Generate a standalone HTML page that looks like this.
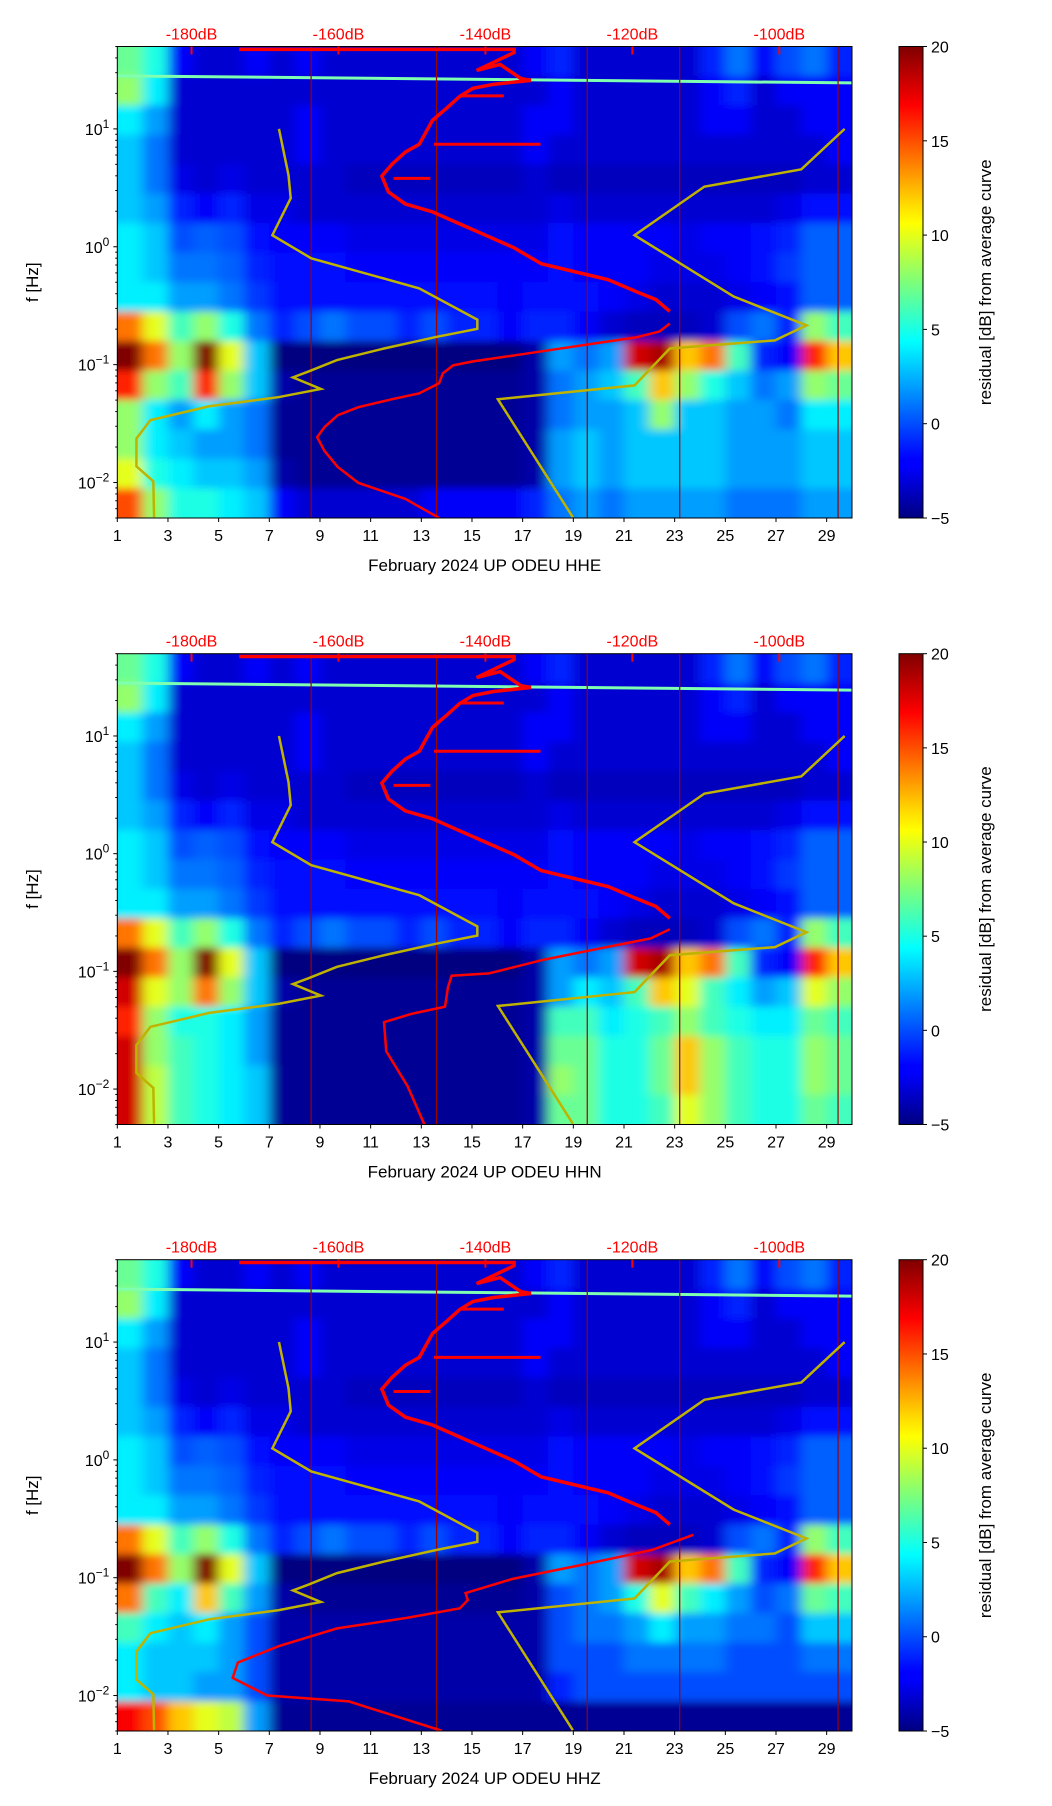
<!DOCTYPE html>
<html><head><meta charset="utf-8"><style>
html,body{margin:0;padding:0;background:#fff}
svg{display:block;font-family:"Liberation Sans","DejaVu Sans",sans-serif}
</style></head><body>
<svg id="fig" xmlns="http://www.w3.org/2000/svg" width="1052" height="1806" viewBox="0 0 1052 1806">
<defs>
<filter id="blur" x="-5%" y="-5%" width="110%" height="110%"><feGaussianBlur stdDeviation="6 4"/></filter>
<linearGradient id="jetgrad" x1="0" y1="1" x2="0" y2="0">
<stop offset="0" stop-color="#000080"/><stop offset="0.11" stop-color="#0000ff"/><stop offset="0.125" stop-color="#0000ff"/>
<stop offset="0.34" stop-color="#00dcff"/><stop offset="0.375" stop-color="#00ffff"/><stop offset="0.5" stop-color="#7dff7a"/>
<stop offset="0.625" stop-color="#ffff00"/><stop offset="0.66" stop-color="#ffe000"/><stop offset="0.875" stop-color="#ff0000"/><stop offset="1" stop-color="#800000"/>
</linearGradient>
</defs>
</svg>
<script>
// ---- data ----
const days = [1,2,3,4,5,6,7,8,9,10,11,12,13,14,15,16,17,18,19,20,21,22,23,24,25,26,27,28,29];
const xTicks = [1,3,5,7,9,11,13,15,17,19,21,23,25,27,29];
const yTickExp = [1,0,-1,-2];
const dbTicks = [-180,-160,-140,-120,-100];
const cbTicks = [20,15,10,5,0,-5];
const plotTitles = ["February 2024 UP ODEU  HHE","February 2024 UP ODEU  HHN","February 2024 UP ODEU  HHZ"];
const rowTopLog = [1.70,1.45,1.20,0.95,0.70,0.45,0.20,-0.05,-0.30,-0.55,-0.80,-1.05,-1.30,-1.55,-1.80,-2.05];

const baseRows = [
[7,5,-2,-3,-3,-2,-3,-2,-3,-3,-3,-3,-3,-3,-3,-3,-2,-1,-3,-3,-3,-3,-3,-1,1,-2,0,1,-1],
[8,4,-3,-3,-3,-3,-3,-3,-3,-3,-3,-3,-3,-3,-3,-3,-3,-2,-3,-3,-3,-3,-3,-2,-1,-3,-2,-2,-2],
[4,2,-3,-3,-3,-3,-3,-2,-3,-3,-3,-3,-3,-3,-3,-3,-2,-2,-3,-3,-3,-3,-3,-2,-2,-3,-3,-2,-2],
[3,1,-3,-3,-3,-3,-3,-2,-3,-3,-3,-3,-3,-3,-3,-3,-2,-3,-3,-3,-3,-3,-3,-3,-3,-3,-3,-3,-2],
[3,1,-2.5,-3,-2.5,-3,-3,-3,-3,-3.5,-3.5,-3.5,-3.5,-3.5,-3.5,-3.5,-3,-3.5,-3.5,-3.5,-3.5,-3.5,-3.5,-3.5,-3.5,-3.5,-3.5,-3,-3],
[3,2,-1,-2,-1,-2.5,-2.5,-3,-3,-3,-3,-3,-3,-3,-3,-3,-3,-2.5,-3,-3,-3,-3,-3,-3,-3,-3,-2.5,-1.5,-1.5],
[4,3,0,0.5,0,-1.5,-2,-2,-2,-2.5,-2.5,-2.5,-2.5,-2.5,-2.5,-2.5,-2.5,-1.5,-2,-2,-2,-2,-2.5,-2,-2,-1.5,-1,0.5,0.5],
[4,3,1,1,0.5,-1,-1.5,-1.5,-1.5,-2,-2,-2,-2,-2,-2,-2,-2,-1.5,-2,-2,-2,-2.5,-2.5,-2.5,-2,-1.5,-0.5,0.5,0.5],
[4,4,2,2,1,-0.5,-1.5,-1.5,-1.5,-1.5,-1.5,-1.5,-1.5,-1.5,-1.5,-2,-1.5,-1.5,-1.5,-2,-2.5,-3,-3,-3,-2.5,-2,-1.5,0.5,0.5],
[14,10,6,8,5,1,-1,0,1,0,0,-1,0,-1,-1,-2,-1,-1,-2,-3,-3.5,-3.5,-3.5,-3,0,1,-1,8,6],
[20,14,8,20,10,3,-5,-5,-5,-5,-5,-5,-5,-5,-5,-5,-4,2,1,2,18,19,12,14,6,-1,-2,16,12],
[16,8,6,16,8,3,-4,-4.5,-4.5,-4.5,-4.5,-4.5,-4.5,-4.5,-4.5,-4.5,-4,1,2,3,6,12,8,5,3,1,2,8,7],
[8,4,2,4,2,1,-4.5,-4.5,-4.5,-4.5,-4.5,-4.5,-4.5,-4.5,-4.5,-4.5,-4,1,2,2,3,8,3,3,2,2,1,4,4],
[8,4,3,2,2,1,-4.5,-4.5,-4.5,-4.5,-4.5,-4.5,-4.5,-4.5,-4.5,-4.5,-4,2,3,2,3,3,3,3,2,2,2,3,3],
[10,5,4,3,3,2,-4,-4.5,-4.5,-4.5,-4.5,-4.5,-4.5,-4.5,-4.5,-4.5,-4,2,3,2,3,3,3,3,2,2,2,3,3],
[15,8,5,5,4,3,-2,-3,-3,-3,-3,-3,-2,-2,-2,-2,-1,1,2,1,2,2,2,2,1,1,1,2,2]];

const hhnLowRows = [
[18,10,8,14,8,3,-4,-4.5,-4.5,-4.5,-4.5,-4.5,-4.5,-4.5,-4.5,-4.5,-4,2,4,3,6,12,10,6,4,2,3,10,8],
[16,8,5,5,4,2,-4.5,-4.5,-4.5,-4.5,-4.5,-4.5,-4.5,-4.5,-4.5,-4.5,-4,6,6,4,5,6,8,6,5,4,4,7,6],
[18,8,6,5,4,2,-4.5,-4.5,-4.5,-4.5,-4.5,-4.5,-4.5,-4.5,-4.5,-4.5,-4,7,7,5,5,7,12,8,6,5,5,8,7],
[18,9,6,5,4,3,-4.5,-4.5,-4.5,-4.5,-4.5,-4.5,-4.5,-4.5,-4.5,-4.5,-4,8,7,5,5,7,12,8,6,5,5,8,7],
[18,9,6,5,4,3,-4.5,-4.5,-4.5,-4.5,-4.5,-4.5,-4.5,-4.5,-4.5,-4.5,-4,7,7,5,5,6,10,8,6,5,5,7,6]];
const hhzLowRows = [
[14,6,4,12,6,2,-4,-4.5,-4.5,-4.5,-4.5,-4.5,-4.5,-4.5,-4.5,-4.5,-4,0,1,2,5,10,6,4,2,0,1,7,6],
[6,4,3,4,2,0,-4,-4,-4,-4,-4,-4,-4,-4,-4,-4,-4,0,1,1,2,4,2,2,1,1,0,3,3],
[4,3,3,3,2,0,-4,-4,-4,-4,-4,-4,-4,-4,-4,-4,-4,0,0,0,1,1,1,1,0,0,0,1,1],
[4,3,3,2,2,0,-4,-4,-4,-4,-4,-4,-4,-4,-4,-4,-4,-1,0,0,0,0,0,0,0,0,0,0,0],
[17,15,12,10,9,2,-4.5,-4.5,-4.5,-4.5,-4.5,-4.5,-4.5,-4.5,-4.5,-4.5,-4.5,-4.5,-4.5,-4.5,-4.5,-4.5,-4.5,-4.5,-4.5,-4.5,-4.5,-4.5,-4.5]];

const humDay = [1,30];
const humLog = [1.45,1.39];
const redLineDays = [8.65,13.6,19.55,23.2,29.45];

// red PSD curve (dB, log10 f)
const psdUpperDb = [-173.5,-136.1,-136.1,-141.2,-138.0,-135.2,-133.8,-138.9,-141.7,-143.5,-145.3,-147.2,-148.1,-149.0,-150.9,-152.7,-154.1,-153.2,-150.9,-147.2,-143.5,-139.8,-136.1,-132.4,-127.9,-123.3,-119.5,-116.8,-114.9];
const psdUpperLog = [1.675,1.675,1.648,1.496,1.547,1.428,1.412,1.378,1.344,1.276,1.175,1.073,0.972,0.870,0.803,0.701,0.600,0.465,0.363,0.296,0.194,0.093,-0.009,-0.144,-0.211,-0.279,-0.380,-0.448,-0.549];
const psdLowDb1 = [-114.9,-116.3,-119.5,-125.1,-130.6,-136.1,-141.7,-144.4,-145.8,-146.3,-149.0,-152.7,-157.3,-160.1,-161.9,-162.9,-161.9,-160.1,-157.3,-150.9,-146.3];
const psdLowLog1 = [-0.651,-0.719,-0.769,-0.820,-0.871,-0.922,-0.972,-1.006,-1.074,-1.158,-1.243,-1.293,-1.361,-1.429,-1.530,-1.615,-1.733,-1.868,-2.003,-2.139,-2.301];
const psdLowDb2 = [-114.9,-117.5,-124,-132,-139.5,-144.6,-145.1,-145.5,-150,-153.8,-153.5,-150.6,-148.3];
const psdLowLog2 = [-0.642,-0.72,-0.80,-0.90,-1.017,-1.037,-1.136,-1.30,-1.36,-1.432,-1.679,-1.975,-2.301];
const psdLowDb3 = [-111.7,-117.3,-126.8,-136.3,-142.7,-142.4,-143.5,-150.6,-160.2,-168.1,-173.7,-174.4,-169.7,-158.6,-145.9];
const psdLowLog3 = [-0.636,-0.764,-0.89,-1.01,-1.13,-1.19,-1.26,-1.34,-1.43,-1.58,-1.72,-1.85,-2.00,-2.05,-2.30];
const spikeDb = [[-147,-132.5],[-152.5,-147.5],[-143.5,-137.5]];
const spikeLog = [0.87,0.58,1.28];

// noise model curves
const nlnmDb = [-168.1,-166.8,-166.5,-169.0,-163.7,-149.0,-141.1,-141.1,-146.7,-153.8,-160.2,-164.1,-166.2,-162.4,-168.1,-177.6,-185.6,-187.5,-187.5,-185.2,-185.1];
const nlnmLog = [1.0,0.608,0.412,0.098,-0.098,-0.353,-0.618,-0.696,-0.765,-0.863,-0.961,-1.059,-1.108,-1.206,-1.275,-1.353,-1.471,-1.627,-1.863,-1.990,-2.294];
const nhnmDb = [-91.1,-97.0,-110.2,-119.7,-106.2,-96.3,-100.6,-114.9,-119.7,-138.3,-128.1];
const nhnmLog = [1.0,0.657,0.510,0.098,-0.422,-0.667,-0.794,-0.863,-1.176,-1.294,-2.294];

// ---- layout ----
const L = 117.3, R = 852, CBX = 899, CBW = 24;
const panels = [{top:46.5,bot:518},{top:653.7,bot:1124.5},{top:1259.7,bot:1731}];
const LOGTOP = Math.log10(50), LOGBOT = Math.log10(0.005);
const NS = "http://www.w3.org/2000/svg";
const svg = document.getElementById('fig');

function el(tag, attrs, parent){ const e=document.createElementNS(NS,tag); for(const k in attrs) e.setAttribute(k,attrs[k]); (parent||svg).appendChild(e); return e; }
function jet(v){
  let t = Math.max(0,Math.min(1,(v+5)/25));
  const c = x => Math.round(255*Math.max(0,Math.min(1,x)));
  const r = c(Math.min(4*t-1.5,-4*t+4.5)), g = c(Math.min(4*t-0.5,-4*t+3.5)), b = c(Math.min(4*t+0.5,-4*t+2.5));
  return `rgb(${r},${g},${b})`;
}

panels.forEach((p,pi)=>{
  const xDay = d => L + (d-1)/(30-1)*(R-L);
  const xDb = db => xDay(3.93 + (db+180)/20*5.8);
  const yLog = lg => p.top + (LOGTOP-lg)/(LOGTOP-LOGBOT)*(p.bot-p.top);
  const rows = baseRows.map(r=>r.slice());
  const low = pi===1 ? hhnLowRows : (pi===2 ? hhzLowRows : null);
  if(low){ for(let k=0;k<5;k++) rows[11+k]=low[k]; }

  const g = el('g',{});
  
  
  const cp = el('clipPath',{id:'clip'+pi},svg);
  el('rect',{x:L,y:p.top,width:R-L,height:p.bot-p.top},cp);
  const plot = el('g',{'clip-path':`url(#clip${pi})`},g);
  el('rect',{x:L,y:p.top,width:R-L,height:p.bot-p.top,fill:jet(-3)},plot);
  const hm = el('g',{filter:'url(#blur)'},plot);
  
  
  rows.forEach((row,ri)=>{
    const y0 = yLog(rowTopLog[ri]) - (ri===0?10:0);
    const y1 = ri===15 ? p.bot+10 : yLog(rowTopLog[ri]-0.25);
    row.forEach((v,ci)=>{
      const x0 = xDay(days[ci]) - (ci===0?10:0);
      const x1 = ci===row.length-1 ? R+10 : xDay(days[ci]+1);
      const c = el('rect',{x:x0,y:y0,width:x1-x0+0.5,height:y1-y0+0.5,fill:jet(v)},hm);
      
      
    });
  });
  const hum = el('line',{x1:xDay(humDay[0]),y1:yLog(humLog[0]),x2:xDay(humDay[1]),y2:yLog(humLog[1]),stroke:'#7fffb0','stroke-width':3},plot);
  
  
  redLineDays.forEach(d=>{
    const l = el('line',{x1:xDay(d),x2:xDay(d),y1:p.top,y2:p.bot,stroke:'#a00000','stroke-width':1.2},plot);
    
    
  });
  [[nlnmDb,nlnmLog,'nlnm-curve'],[nhnmDb,nhnmLog,'nhnm-curve']].forEach(([a,b,n])=>{
    const pl = el('polyline',{points:a.map((d,i)=>xDb(d)+','+yLog(b[i])).join(' '),fill:'none',stroke:'#bfb300','stroke-width':2.5},plot);
    
    
  });
  const lowDb = [psdLowDb1,psdLowDb2,psdLowDb3][pi], lowLog=[psdLowLog1,psdLowLog2,psdLowLog3][pi];
  const up = el('polyline',{points:psdUpperDb.map((d,i)=>xDb(d)+','+yLog(psdUpperLog[i])).join(' '),fill:'none',stroke:'#ff0000','stroke-width':3.5},plot);
  
  
  const lw = el('polyline',{points:lowDb.map((d,i)=>xDb(d)+','+yLog(lowLog[i])).join(' '),fill:'none',stroke:'#ff0000','stroke-width':2.5},plot);
  
  
  spikeDb.forEach((s,i)=>{
    const sp = el('line',{x1:xDb(s[0]),x2:xDb(s[1]),y1:yLog(spikeLog[i]),y2:yLog(spikeLog[i]),stroke:'#ff0000','stroke-width':3},plot);
    
    
  });
  el('rect',{x:L,y:p.top,width:R-L,height:p.bot-p.top,fill:'none',stroke:'#000','stroke-width':1},g);
  xTicks.forEach(d=>{
    el('line',{x1:xDay(d),x2:xDay(d),y1:p.bot,y2:p.bot+4,stroke:'#000'},g);
    const t = el('text',{x:xDay(d),y:p.bot+23,'font-size':16,'text-anchor':'middle',fill:'#000'},g);
    t.textContent = d;
    
    
  });
  const xt = el('text',{x:(L+R)/2,y:p.bot+53,'font-size':17,'text-anchor':'middle',fill:'#000'},g);
  xt.textContent = plotTitles[pi];
  
  
  for(let e=-3;e<=1;e++){ for(let m=1;m<=9;m++){ const lg=e+Math.log10(m); if(lg<LOGBOT-1e-6||lg>LOGTOP) continue;
    const y=yLog(lg); el('line',{x1:L-(m===1?4:2),x2:L,y1:y,y2:y,stroke:'#000'},g);} }
  yTickExp.forEach(e=>{
    const t = el('text',{x:L-8,y:yLog(e)+6,'font-size':16,'text-anchor':'end',fill:'#000'},g);
    
    
    t.appendChild(document.createTextNode('10'));
    const s = el('tspan',{dy:-7,'font-size':12},t); s.textContent = e<0?'\u2212'+(-e):String(e);
  });
  const yt = el('text',{x:0,y:0,'font-size':17,'text-anchor':'middle',transform:`translate(38,${(p.top+p.bot)/2}) rotate(-90)`},g);
  yt.textContent='f [Hz]';
  
  
  dbTicks.forEach(d=>{
    el('line',{x1:xDb(d),x2:xDb(d),y1:p.top,y2:p.top+8,stroke:'#ff0000','stroke-width':2},g);
    const t = el('text',{x:xDb(d),y:p.top-7,'font-size':16,'text-anchor':'middle',fill:'#ff0000'},g);
    t.textContent = d+'dB';
    
    
  });
  const cb = el('g',{},g);
  
  
  el('rect',{x:CBX,y:p.top,width:CBW,height:p.bot-p.top,fill:'url(#jetgrad)',stroke:'#000','stroke-width':1},cb);
  cbTicks.forEach(v=>{
    const y = p.bot - (v+5)/25*(p.bot-p.top);
    el('line',{x1:CBX+CBW,x2:CBX+CBW+4,y1:y,y2:y,stroke:'#000'},cb);
    const t = el('text',{x:CBX+CBW+8,y:y+6,'font-size':16,fill:'#000'},cb);
    t.textContent = v<0?'\u2212'+(-v):String(v);
    
    
  });
  const cl = el('text',{x:0,y:0,'font-size':17,'text-anchor':'middle',transform:`translate(991,${(p.top+p.bot)/2}) rotate(-90)`},cb);
  cl.textContent='residual [dB] from average curve';
  
  
});
</script>
</body></html>
